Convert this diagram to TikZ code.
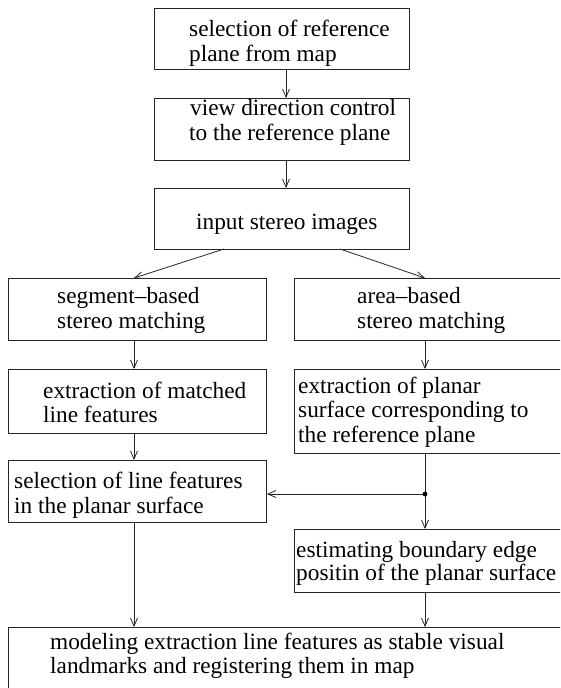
\documentclass[tikz,border=0pt]{standalone}
\usepackage{fontspec}
\setmainfont{Liberation Serif}
\usetikzlibrary{arrows.meta}
\begin{document}
\begin{tikzpicture}[x=1pt,y=-1pt,
  box/.style={draw=black!85, line width=0.9pt, inner sep=0pt, anchor=north west},
  txt/.style={anchor=base west, inner sep=0pt, font=\fontsize{23.3}{25}\selectfont},
  arr/.style={draw=black!85, line width=0.8pt, -{Straight Barb[length=8pt,width=7pt,line width=0.8pt]}},
  ln/.style={draw=black!85, line width=0.8pt}]
\useasboundingbox (0,0) rectangle (560,688);
\clip (0,0) rectangle (560,688);
% boxes
\node[box, minimum width=255pt, minimum height=61pt] (b1) at (154,8) {};
\node[box, minimum width=255pt, minimum height=62pt] (b2) at (154,98) {};
\node[box, minimum width=255pt, minimum height=61pt] (b3) at (154,188) {};
\node[box, minimum width=258pt, minimum height=62pt] (b4) at (8,278) {};
\node[box, minimum width=280pt, minimum height=62pt] (b5) at (294,278) {};
\node[box, minimum width=258pt, minimum height=64pt] (b6) at (8,369) {};
\node[box, minimum width=280pt, minimum height=84pt] (b7) at (294,369) {};
\node[box, minimum width=258pt, minimum height=62pt] (b8) at (8,460) {};
\node[box, minimum width=280pt, minimum height=63pt] (b9) at (294,529) {};
\node[box, minimum width=570pt, minimum height=80pt] (b10) at (8,627) {};
% texts
\node[txt] (t1a) at (189,36) {selection of reference};
\node[txt] (t1b) at (189,61) {plane from map};
\node[txt] (t2a) at (190,115) {view direction control};
\node[txt] (t2b) at (189,140) {to the reference plane};
\node[txt] (t3a) at (196,229) {input stereo images};
\node[txt] (t4a) at (57,303) {segment{\textendash}based};
\node[txt] (t4b) at (57,328) {stereo matching};
\node[txt] (t5a) at (357,303) {area{\textendash}based};
\node[txt] (t5b) at (357,328) {stereo matching};
\node[txt] (t6a) at (43,398) {extraction of matched};
\node[txt] (t6b) at (43,422) {line features};
\node[txt] (t7a) at (298,393) {extraction of planar};
\node[txt] (t7b) at (298,417) {surface corresponding to};
\node[txt] (t7c) at (298,442) {the reference plane};
\node[txt] (t8a) at (14,488) {selection of line features};
\node[txt] (t8b) at (14,513) {in the planar surface};
\node[txt] (t9a) at (296,557) {estimating boundary edge};
\node[txt] (t9b) at (296,580) {positin of the planar surface};
\node[txt] (t10a) at (50,649) {modeling extraction line features as stable visual};
\node[txt] (t10b) at (50,673) {landmarks and registering them in map};
% connector columns
\coordinate (cx) at (286,0);
\coordinate (lx) at (134,0);
\coordinate (rx) at (425,0);
\coordinate (s3l) at (224,249);
\coordinate (s3r) at (340,249);
\coordinate (e4) at (134,278);
\coordinate (e5) at (425,278);
\coordinate (dot) at (425,494);
% connectors
\draw[arr] (b1.south -| cx) -- (b2.north -| cx);
\draw[arr] (b2.south -| cx) -- (b3.north -| cx);
\draw[arr] (s3l) -- (e4);
\draw[arr] (s3r) -- (e5);
\draw[arr] (b4.south -| lx) -- (b6.north -| lx);
\draw[arr] (b5.south -| rx) -- (b7.north -| rx);
\draw[arr] (b6.south -| lx) -- (b8.north -| lx);
\draw[ln] (b7.south -| rx) -- (dot);
\draw[arr] (dot) -- (b9.north -| rx);
\draw[arr] (dot) -- (dot -| b8.east);
\fill[black] (dot) circle (2.4pt);
\draw[arr] (b8.south -| lx) -- (b10.north -| lx);
\draw[arr] (b9.south -| rx) -- (b10.north -| rx);
\end{tikzpicture}
\end{document}
